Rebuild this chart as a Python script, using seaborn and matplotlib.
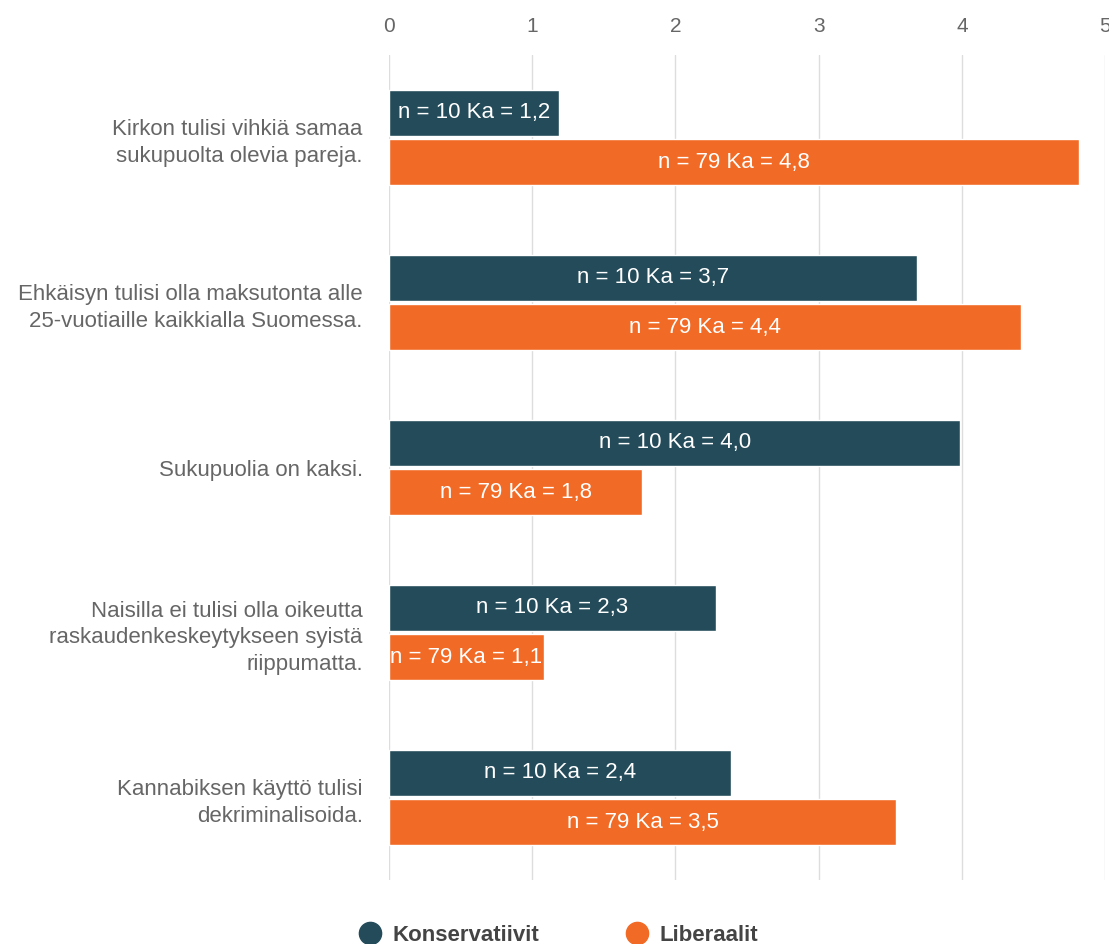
import matplotlib
matplotlib.use("Agg")
import matplotlib.pyplot as plt
from matplotlib.lines import Line2D
import seaborn as sns
import pandas as pd

# data
questions = [
    "Kirkon tulisi vihkiä samaa\nsukupuolta olevia pareja.",
    "Ehkäisyn tulisi olla maksutonta alle\n25-vuotiaille kaikkialla Suomessa.",
    "Sukupuolia on kaksi.",
    "Naisilla ei tulisi olla oikeutta\nraskaudenkeskeytykseen syistä\nriippumatta.",
    "Kannabiksen käyttö tulisi\ndekriminalisoida.",
]
groups = ["Konservatiivit", "Liberaalit"]
konservatiivit = [1.19, 3.69, 3.99, 2.28, 2.39]
liberaalit = [4.82, 4.41, 1.77, 1.08, 3.54]
n_kons = 10
n_lib = 79
colors = ["#234B5A", "#F26B26"]

df = pd.DataFrame({
    "kysymys": questions * 2,
    "ryhma": [groups[0]] * 5 + [groups[1]] * 5,
    "ka": konservatiivit + liberaalit,
    "n": [n_kons] * 5 + [n_lib] * 5,
})

sns.set_theme(style="white")
plt.rcParams['font.family'] = ['Liberation Sans', 'DejaVu Sans']

fig = plt.figure(figsize=(11.09, 9.44), dpi=100)
ax = fig.add_axes([0.3508, 0.0678, 0.6456, 0.8739])

sns.barplot(data=df, y="kysymys", x="ka", hue="ryhma", order=questions,
            hue_order=groups, palette=colors, orient="h", width=0.6,
            gap=0.07, saturation=1, legend=False, ax=ax)

for cont, g in zip(ax.containers, groups):
    sub = df[df.ryhma == g]
    labs = ["n = %d Ka = %s" % (n, ("%.1f" % v).replace(".", ","))
            for n, v in zip(sub["n"], sub["ka"])]
    ax.bar_label(cont, labels=labs, label_type="center", color="white",
                 fontsize=16)

ax.set_xlim(0, 5)
ax.set_xticks(range(6))
ax.xaxis.tick_top()
ax.tick_params(axis="x", length=0, labelsize=15, labelcolor="#666666", pad=14)
ax.tick_params(axis="y", length=0, labelsize=16, labelcolor="#666666", pad=19)
for lab in ax.get_yticklabels():
    lab.set_horizontalalignment("right")
    lab.set_multialignment("right")
    lab.set_linespacing(1.35)
ax.set_xlabel("")
ax.set_ylabel("")
ax.grid(axis="x", color="#dddddd", linewidth=1)
ax.axvline(0, color="#c5cde3", linewidth=1.2, zorder=0.5)
ax.set_axisbelow(True)
for s in ax.spines.values():
    s.set_visible(False)

handles = [Line2D([], [], marker="o", linestyle="", markersize=16,
                  markerfacecolor=c, markeredgecolor=c) for c in colors]
leg = fig.legend(handles, groups, loc="lower left", bbox_to_anchor=(0.296, -0.023),
                 ncol=2, frameon=False, columnspacing=3.4, handletextpad=0.0,
                 prop={"weight": "bold", "size": 16})
for t in leg.get_texts():
    t.set_color("#444444")

fig.savefig("out.png", dpi=100)
